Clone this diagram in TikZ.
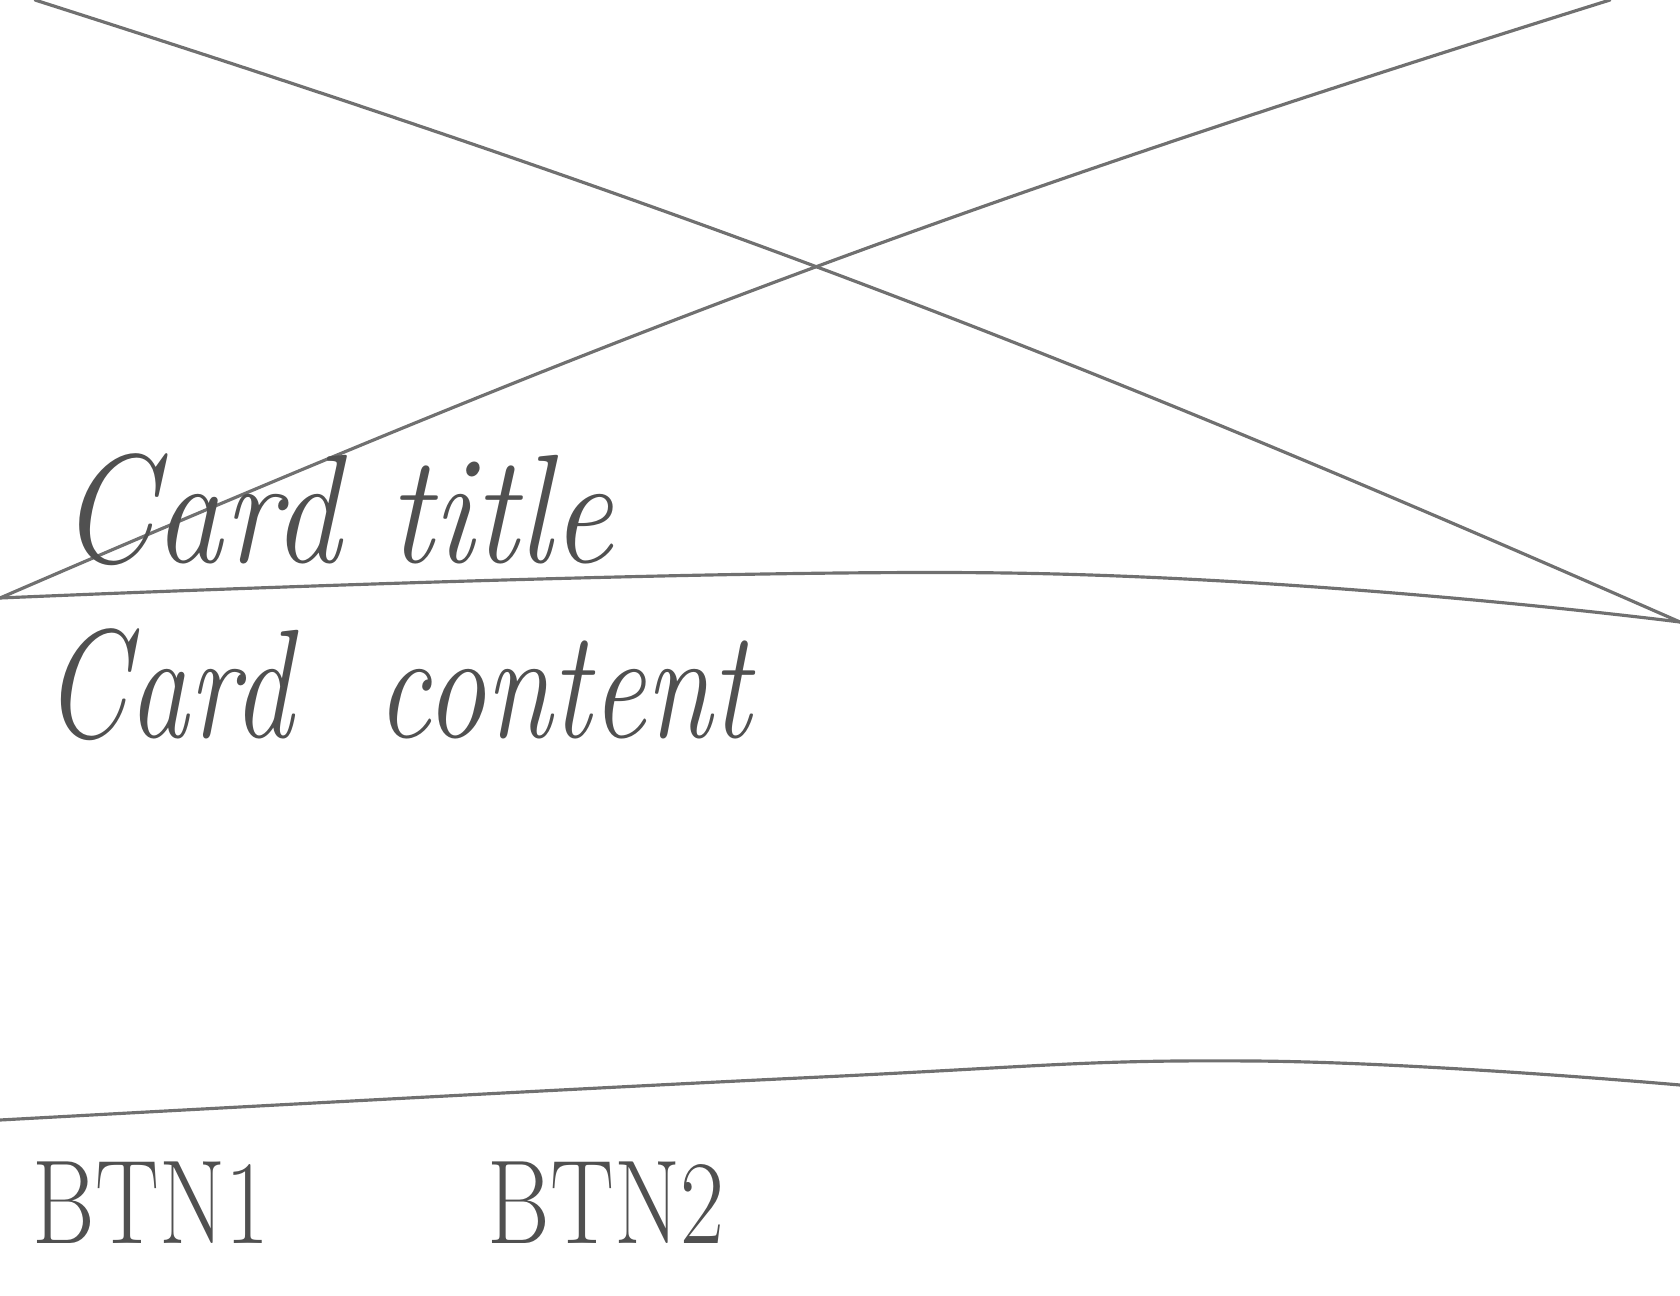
\documentclass[tikz,border=0pt]{standalone}
\usepackage{tkz-euclide}
\usetikzlibrary{calc}
\definecolor{PencilClr}{RGB}{112,112,112}
\definecolor{TextClr}{RGB}{80,80,80}

\begin{document}
\begin{tikzpicture}[line cap=round,
  sketchline/.style={line width=0.9pt,color=PencilClr},
  sketchtext/.style={text=TextClr,inner sep=0pt,anchor=base west}]
\useasboundingbox (0,0) rectangle (16.80,12.95);
\clip (0,0) rectangle (16.80,12.95);

\tkzDefPoints{0.35/12.95/A,16.80/6.73/B,0/6.97/C,16.10/12.95/D}
\tkzDefPoints{10.07/7.22/M,0/1.75/E,8.0/2.17/P,12.54/2.34/Q,16.80/2.10/F}

% image placeholder cross
\draw[sketchline] (A) to[bend left=3] (B);
\draw[sketchline] (C) to[bend left=3] (D);

% dividers
\draw[sketchline] plot[smooth,tension=0.7] coordinates {(C) (M) (B)};
\draw[sketchline] plot[smooth,tension=0.7] coordinates {(E) (P) (Q) (F)};

\node[sketchtext] (title) at (0.59,7.33)
  {\scalebox{0.88}[1]{\fontsize{44}{50}\selectfont\itshape Card title}};
\node[sketchtext] (content) at (0.43,5.58)
  {\scalebox{0.78}[1]{\fontsize{44}{50}\selectfont\itshape Card\ \ content}};

\node[sketchtext] (btnA) at (0.32,0.52)
  {\scalebox{0.8}[1]{\fontsize{34}{40}\selectfont BTN1}};
\node[sketchtext] (btnB) at (4.87,0.52)
  {\scalebox{0.8}[1]{\fontsize{34}{40}\selectfont BTN2}};

\end{tikzpicture}
\end{document}
